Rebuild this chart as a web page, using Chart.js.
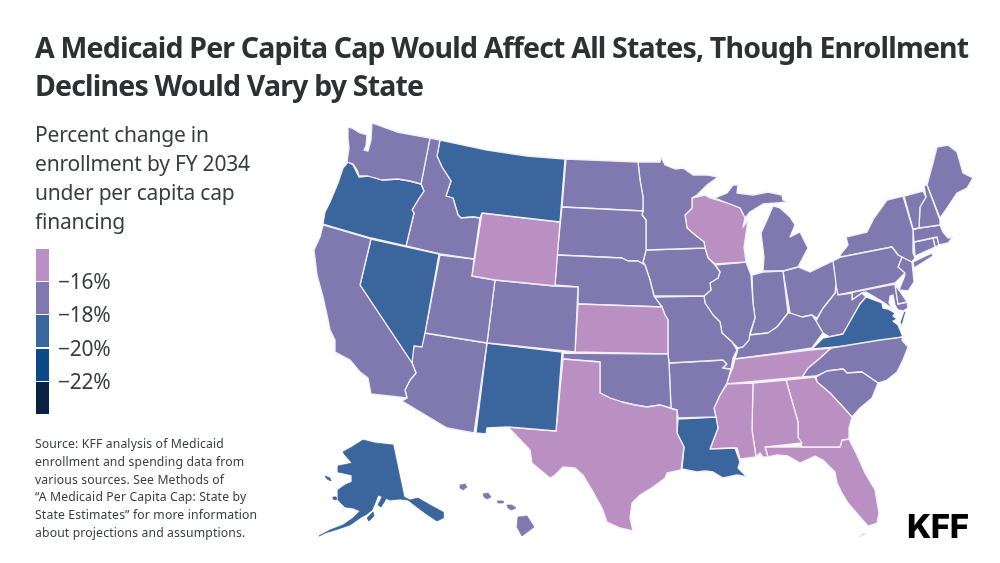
<!DOCTYPE html>
<html>
<head>
<meta charset="utf-8">
<title>Medicaid per capita cap map</title>
<script src="https://cdn.jsdelivr.net/npm/chart.js@4"></script>
<style>
    html, body { margin: 0; padding: 0; background: #fff; }
    #page { position: relative; width: 1000px; height: 563px; overflow: hidden; font-family: "Noto Sans", sans-serif; color: #3a3d40; }
    #map { position: absolute; left: 0; top: 0; width: 1000px; height: 563px; }
    .txt { position: absolute; white-space: nowrap; }
    #title { left: 35px; top: 28px; font-size: 28.5px; line-height: 38px; font-weight: 700; color: #2e3134; letter-spacing: -0.82px; }
    #subtitle { left: 35px; top: 120px; font-size: 21px; line-height: 29px; letter-spacing: -0.2px; }
    #source { left: 35px; top: 435px; font-size: 12.2px; line-height: 17.8px; letter-spacing: 0.15px; }
    #logo { left: 907px; top: 506px; font-family: Inter, sans-serif; font-size: 33px; line-height: 40px; font-weight: 800; color: #000; letter-spacing: -0.5px; }
    .swatch { position: absolute; left: 36px; width: 13px; height: 32px; }
    .tick { position: absolute; left: 58px; font-size: 21px; line-height: 26px; letter-spacing: -0.3px; }
</style>
</head>
<body>
<div id="page">
    <canvas id="map" width="1000" height="563"></canvas>
    <div class="txt" id="title">A Medicaid Per Capita Cap Would Affect All States, Though Enrollment<br>Declines Would Vary by State</div>
    <div class="txt" id="subtitle">Percent change in<br>enrollment by FY 2034<br>under per capita cap<br>financing</div>
    <div id="legend"></div>
    <div class="txt" id="source">Source: KFF analysis of Medicaid<br>enrollment and spending data from<br>various sources. See Methods of<br>“A Medicaid Per Capita Cap: State by<br>State Estimates” for more information<br>about projections and assumptions.</div>
    <div class="txt" id="logo">KFF</div>
</div>
<script>
// bins of the legend
const legendColors = ['#ba8fc1', '#8079af', '#3b659d', '#0b4a86', '#0a2342'];
const legendTicks = ['−16%', '−18%', '−20%', '−22%'];
const binBreaks = [-16, -18, -20, -22];

const stateNames = ['WA','OR','CA','NV','ID','MT','WY','UT','AZ','CO','NM','TX','OK','KS','NE','SD','ND','MN','IA','MO','AR','LA','WI','IL','MS','AL','TN','KY','IN','MI','OH','GA','FL','SC','NC','VA','WV','PA','NY','VT','NH','ME','MA','CT','RI','NJ','DE','MD','AK','HI'];
const stateChange = [-17,-19,-17,-19,-17,-19,-15,-17,-17,-17,-19,-15,-17,-15,-17,-17,-17,-17,-17,-17,-17,-19,-15,-17,-15,-15,-15,-17,-17,-17,-17,-15,-15,-17,-17,-19,-17,-17,-17,-17,-17,-17,-17,-17,-17,-17,-17,-17,-19,-17];
// no shared borders, so no white outline on these
const detachedStates = ['AK', 'HI'];

// state outlines, map units
const WA = [[[348,127],[352,128],[360,133],[367,135],[366,146],[364,150],[368,151],[371,140],[372,123],[397,132],[430,138],[421,184],[410,181],[398,179],[382,180],[368,176],[359,176],[357,170],[353,164],[347,162],[349,148],[348,138]]];
const OR = [[[348,162],[353,165],[357,173],[359,177],[368,176],[382,180],[398,179],[410,181],[421,184],[424,191],[418,200],[412,210],[414,213],[406,246],[371,238],[323,224],[325,212],[330,202],[338,183],[343,168]]];
const CA = [[[323,225],[371,239],[360,285],[412,363],[416,373],[410,380],[405,390],[407,398],[371,394],[368,378],[360,372],[350,360],[335,352],[335,340],[330,330],[327,315],[323,297],[317,275],[314,250],[320,237]]];
const NV = [[[371,239],[439,254],[425,333],[422,347],[414,346],[412,363],[360,285]]];
const ID = [[[430,138],[440,140],[437,156],[442,167],[451,181],[446,196],[453,198],[458,215],[461,218],[473,217],[480,218],[474,259],[440,254],[406,246],[414,213],[412,210],[418,200],[424,191],[421,184]]];
const MT = [[[440,140],[487,150],[527,156],[565,159],[560,222],[482,213],[480,218],[473,217],[461,218],[458,215],[453,198],[446,196],[451,181],[442,167],[437,156]]];
const WY = [[[482,213],[560,222],[555,286],[495,280],[472,276]]];
const UT = [[[440,255],[474,259],[472,276],[495,280],[487,343],[425,333]]];
const AZ = [[[425,333],[487,343],[474,433],[447,428],[402,401],[407,398],[405,390],[410,380],[416,373],[412,363],[413,347],[420,345]]];
const CO = [[[495,280],[555,286],[578,287],[575,352],[487,343]]];
const NM = [[[487,343],[562,352],[556,431],[508,427],[487,428],[486,434],[476,433]]];
const TX = [[[563,359],[600,362],[600,393],[610,398],[622,402],[635,405],[647,407],[660,405],[672,409],[677,410],[677,433],[684,447],[681,470],[667,473],[665,478],[653,487],[640,495],[632,503],[630,518],[633,531],[620,528],[607,522],[602,508],[592,490],[583,475],[575,468],[563,467],[555,475],[550,478],[532,463],[530,450],[508,427],[556,431]]];
const OK = [[[563,353],[668,354],[669,363],[671,408],[660,405],[647,407],[635,405],[622,402],[610,398],[600,393],[600,362],[563,359]]];
const KS = [[[578,304],[662,307],[665,315],[668,320],[668,354],[575,352]]];
const NE = [[[557,255],[622,258],[628,261],[638,261],[645,265],[650,280],[654,296],[662,307],[578,304],[578,287],[555,285]]];
const SD = [[[562,207],[643,211],[642,215],[646,220],[646,250],[643,262],[645,265],[638,261],[628,261],[622,258],[557,255]]];
const ND = [[[566,159],[638,162],[640,180],[643,197],[643,211],[562,207]]];
const MN = [[[638,162],[660,162],[661,157],[665,165],[675,169],[683,168],[693,175],[708,175],[718,177],[707,185],[697,195],[692,198],[692,208],[685,215],[687,228],[695,235],[704,242],[705,248],[646,250],[646,220],[642,215],[643,211],[643,197],[640,180]]];
const IA = [[[646,250],[705,248],[708,258],[715,265],[720,272],[718,278],[710,283],[711,290],[704,296],[654,296],[650,280],[645,265],[643,262]]];
const MO = [[[654,297],[704,296],[705,303],[713,315],[720,322],[722,333],[732,342],[737,350],[733,358],[731,369],[723,368],[727,364],[723,360],[669,363],[668,354],[668,320],[665,315],[662,307]]];
const AR = [[[669,363],[723,360],[727,364],[723,368],[731,369],[727,383],[720,395],[714,408],[716,417],[678,418],[677,410],[671,408]]];
const LA = [[[678,419],[716,417],[718,428],[710,449],[735,448],[740,462],[738,468],[747,477],[737,475],[723,478],[713,472],[705,471],[697,472],[682,469],[684,447],[677,433]]];
const WI = [[[692,198],[705,195],[710,198],[727,203],[740,208],[745,218],[743,227],[748,220],[744,247],[746,262],[715,264],[708,258],[705,248],[704,242],[695,235],[687,228],[685,215],[692,208]]];
const IL = [[[715,265],[746,262],[751,275],[753,303],[755,318],[750,333],[749,340],[743,347],[738,348],[732,342],[722,333],[720,322],[713,315],[705,303],[704,296],[711,290],[710,283],[718,278],[720,272]]];
const MS = [[[726,384],[753,383],[752,430],[756,457],[740,459],[737,448],[710,449],[718,428],[714,408],[720,395],[728,383]]];
const AL = [[[753,383],[786,380],[798,422],[798,437],[802,443],[765,447],[768,457],[763,457],[760,453],[756,457],[752,430]]];
const TN = [[[735,359],[810,350],[831,348],[820,358],[808,368],[802,377],[726,384],[733,367]]];
const KY = [[[790,313],[802,317],[812,315],[816,321],[823,333],[812,348],[780,353],[735,359],[737,353],[738,348],[750,335],[758,334],[768,333],[777,327],[788,313]]];
const IN = [[[752,275],[763,272],[783,271],[788,313],[777,327],[768,333],[758,334],[750,335],[755,318],[753,303]]];
const MI = [[[773,206],[780,208],[790,217],[795,225],[790,237],[800,232],[808,248],[798,267],[783,271],[763,271],[764,257],[761,233],[767,220]],
    [[715,198],[727,193],[733,185],[738,185],[737,193],[753,195],[768,192],[782,195],[783,200],[788,202],[777,203],[763,204],[750,212],[745,218],[740,208],[727,203]]];
const OH = [[[783,271],[798,267],[810,272],[833,261],[836,283],[835,293],[823,308],[817,318],[812,315],[802,317],[790,313]]];
const GA = [[[786,380],[815,377],[817,382],[830,393],[843,407],[852,417],[849,428],[849,439],[842,440],[840,447],[802,447],[798,437],[798,422]]];
const FL = [[[765,447],[802,447],[840,447],[842,440],[849,439],[857,455],[865,473],[875,490],[879,513],[877,523],[868,526],[860,517],[848,503],[842,493],[837,483],[835,472],[823,460],[815,456],[800,463],[788,456],[777,455],[768,457]],
    [[858,537],[864,533],[866,534],[860,537]]];
const SC = [[[816,377],[827,371],[843,369],[847,373],[862,372],[878,383],[872,398],[860,408],[852,417],[843,407],[830,393],[817,382]]];
const NC = [[[831,348],[880,340],[903,337],[902,340],[908,347],[903,360],[897,372],[887,380],[878,383],[862,372],[847,373],[843,369],[827,371],[816,376],[802,377],[808,368],[820,358]]];
const VA = [[[812,349],[823,338],[843,334],[852,318],[860,304],[866,297],[882,303],[883,308],[888,309],[895,313],[893,316],[897,319],[893,321],[898,325],[903,337],[860,345]],
    [[904,311],[906,312],[903,322],[901,327],[900,322]]];
const WV = [[[835,282],[838,295],[852,293],[852,300],[862,293],[866,297],[860,304],[852,318],[843,334],[830,337],[823,333],[816,321],[823,308],[835,293]]];
const PA = [[[833,261],[841,257],[892,247],[898,255],[902,257],[898,267],[905,273],[895,283],[838,295],[835,282]]];
const NY = [[[841,257],[840,255],[848,245],[846,237],[867,232],[874,218],[887,200],[903,196],[913,230],[913,253],[915,258],[912,262],[902,257],[898,255],[892,247]],
    [[913,262],[932,253],[933,256],[914,268]]];
const VT = [[[904,196],[923,191],[926,197],[920,207],[919,228],[913,229]]];
const NH = [[[924,186],[927,185],[940,220],[940,225],[919,228],[920,207],[926,197]]];
const ME = [[[927,185],[933,163],[937,147],[948,145],[957,152],[963,173],[973,178],[967,188],[957,193],[947,208],[940,218]]];
const MA = [[[913,230],[919,228],[940,225],[943,232],[948,238],[953,237],[948,243],[939,245],[937,237],[914,242]]];
const CT = [[[914,242],[933,238],[935,247],[915,256]]];
const RI = [[[933,238],[937,237],[939,245],[935,247]]];
const NJ = [[[902,257],[912,262],[913,272],[914,282],[908,291],[899,290],[905,275],[898,267]]];
const DE = [[[895,285],[899,290],[907,302],[898,304]]];
const MD = [[[838,295],[895,284],[898,304],[907,302],[908,308],[903,311],[898,310],[895,305],[893,295],[890,296],[889,303],[893,309],[883,302],[873,296],[866,292],[862,293],[852,300],[852,293]]];
const AK = [[[363,440],[375,443],[393,445],[404,497],[410,500],[418,498],[430,505],[443,512],[443,518],[437,521],[425,513],[417,507],[408,500],[400,499],[390,500],[378,495],[375,503],[372,510],[367,514],[360,518],[350,525],[335,530],[325,533],[319,536],[330,530],[343,525],[353,518],[360,511],[353,508],[345,507],[338,500],[338,490],[345,485],[352,482],[352,475],[343,473],[338,472],[338,466],[348,464],[352,463],[345,455],[343,452],[352,447]],
    [[367,518],[373,512],[374,516],[369,521]],[[378,505],[382,497],[386,499],[381,507]],[[333,497],[336,497],[336,500],[333,499]],[[325,476],[330,478],[331,481],[327,479]]];
const HI = [[[460,485],[465,484],[467,487],[463,490],[460,488]],[[483,494],[488,493],[491,497],[487,499],[484,497]],[[497,501],[503,501],[503,503],[498,503]],[[507,505],[512,505],[516,508],[511,510],[508,508]],[[518,517],[527,516],[534,527],[522,536],[517,527]]];

const stateOutlines = [WA,OR,CA,NV,ID,MT,WY,UT,AZ,CO,NM,TX,OK,KS,NE,SD,ND,MN,IA,MO,AR,LA,WI,IL,MS,AL,TN,KY,IN,MI,OH,GA,FL,SC,NC,VA,WV,PA,NY,VT,NH,ME,MA,CT,RI,NJ,DE,MD,AK,HI];

// colour of the bin a value falls in
function binColor(value) {
    const idx = binBreaks.findIndex(b => value > b);
    return legendColors[idx === -1 ? legendColors.length - 1 : idx];
}

// one closed line dataset per ring
function buildDatasets() {
    const sets = [];
    stateNames.forEach((name, i) => {
        const color = binColor(stateChange[i]);
        stateOutlines[i].forEach(ring => {
            sets.push({
                label: name,
                data: ring.concat([ring[0]]).map(p => ({ x: p[0], y: p[1] })),
                showLine: true,
                fill: 'shape',
                backgroundColor: color,
                borderColor: detachedStates.includes(name) ? color : '#f4f0fa',
                borderWidth: detachedStates.includes(name) ? 0.8 : 1.3,
                borderJoinStyle: 'round',
                pointRadius: 0,
                tension: 0
            });
        });
    });
    return sets;
}

function buildLegend() {
    const box = document.getElementById('legend');
    legendColors.forEach((color, i) => {
        const sw = document.createElement('div');
        sw.className = 'swatch';
        sw.style.top = (249 + i * 33.2) + 'px';
        sw.style.background = color;
        box.appendChild(sw);
    });
    legendTicks.forEach((text, i) => {
        const t = document.createElement('div');
        t.className = 'tick';
        t.style.top = (268 + i * 33.3) + 'px';
        t.textContent = text;
        box.appendChild(t);
    });
}

buildLegend();

new Chart(document.getElementById('map').getContext('2d'), {
    type: 'scatter',
    data: { datasets: buildDatasets() },
    options: {
        responsive: false,
        animation: false,
        layout: { padding: 0 },
        plugins: { legend: { display: false }, tooltip: { enabled: false } },
        scales: {
            x: { type: 'linear', display: false, min: 0, max: 1000 },
            y: { type: 'linear', display: false, min: 0, max: 563, reverse: true }
        }
    }
});
</script>
</body>
</html>
